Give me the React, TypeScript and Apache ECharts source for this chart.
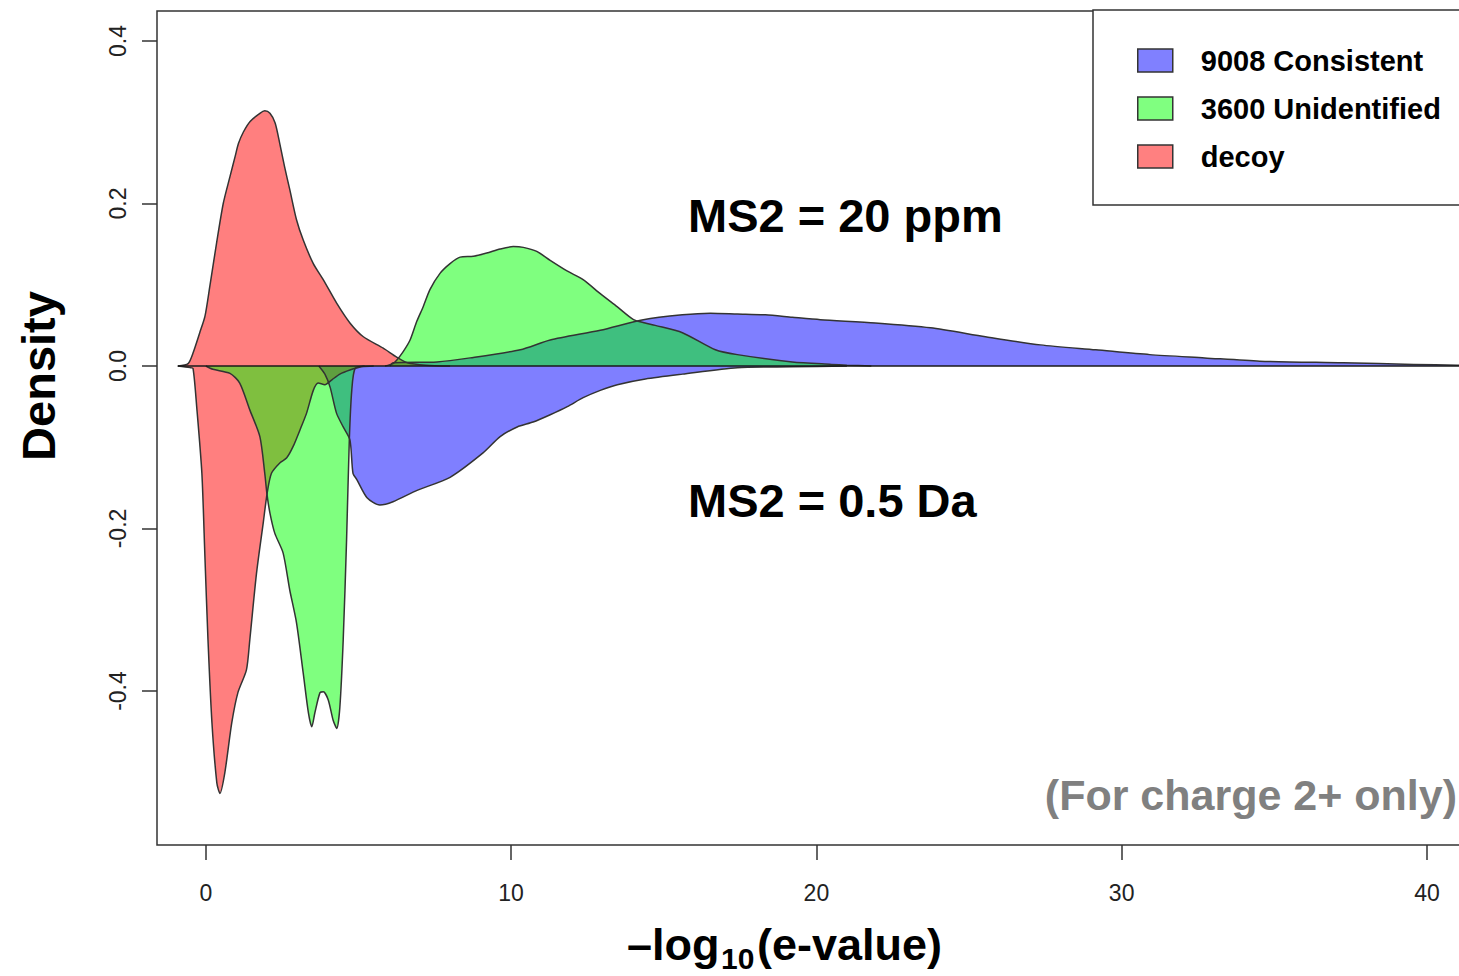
import React, { useEffect, useRef } from 'react';
import * as echarts from 'echarts';

const seriesNames = ['9008 Consistent', '3600 Unidentified', 'decoy'];
const seriesColors = ['#0000FF', '#00FF00', '#FF0000'];
const legendColors = ['#8080FF', '#80FF80', '#FF8080'];
const xTicks = [0, 10, 20, 30, 40];
const yTicks = [-0.4, -0.2, 0, 0.2, 0.4];

// MS2 = 20 ppm (upper half)
const consistentTop: number[][] = [
  [6.03, 0], [6.13, 0.004], [7.57, 0.005], [8.66, 0.01], [10.3, 0.02], [11.28, 0.032],
  [12.92, 0.044], [14.33, 0.057], [15.61, 0.063], [16.53, 0.065], [17.41, 0.064],
  [18.33, 0.063], [19.21, 0.06], [20.13, 0.057], [21.93, 0.053], [23.74, 0.047],
  [25.54, 0.036], [27.34, 0.026], [29.15, 0.02], [30.92, 0.014], [32.72, 0.01],
  [34.52, 0.006], [37.25, 0.004], [39.57, 0.002], [41, 0.001], [42, 0],
];
const unidentifiedTop: number[][] = [
  [5.87, 0], [6.13, 0.003], [6.25, 0.007], [6.47, 0.018], [6.69, 0.032], [6.91, 0.055],
  [7.12, 0.073], [7.34, 0.094], [7.67, 0.114], [8.0, 0.126], [8.33, 0.134], [8.76, 0.135],
  [9.2, 0.139], [9.64, 0.144], [10.07, 0.147], [10.4, 0.146], [10.84, 0.141], [11.28, 0.13],
  [11.83, 0.117], [12.37, 0.106], [12.92, 0.089], [13.47, 0.073], [14.01, 0.057],
  [14.39, 0.053], [14.72, 0.05], [15.61, 0.041], [16.69, 0.02], [17.41, 0.014],
  [19.21, 0.005], [20.49, 0.002], [21.0, 0.001], [21.8, 0],
];
const decoyTop: number[][] = [
  [-0.91, 0], [-0.58, 0.003], [-0.42, 0.016], [-0.2, 0.041], [-0.03, 0.061], [0.13, 0.098],
  [0.35, 0.151], [0.57, 0.2], [0.79, 0.233], [0.96, 0.258], [1.07, 0.274], [1.23, 0.288],
  [1.45, 0.301], [1.77, 0.311], [1.93, 0.314], [2.1, 0.311], [2.27, 0.299], [2.42, 0.274],
  [2.58, 0.245], [2.75, 0.217], [2.97, 0.18], [3.19, 0.155], [3.52, 0.126], [3.85, 0.106],
  [4.29, 0.077], [4.72, 0.053], [5.16, 0.036], [5.81, 0.022], [6.25, 0.011], [6.6, 0.004],
  [7.2, 0.001], [8.0, 0],
];

// MS2 = 0.5 Da (lower half, mirrored)
const consistentBottom: number[][] = [
  [3.7, 0], [3.9, -0.01], [4.07, -0.026], [4.28, -0.058], [4.5, -0.075], [4.72, -0.091],
  [4.82, -0.132], [4.95, -0.14], [5.28, -0.162], [5.7, -0.171], [6.13, -0.167],
  [6.92, -0.153], [8.0, -0.137], [9.08, -0.107], [9.64, -0.087], [10.2, -0.075],
  [10.72, -0.069], [11.28, -0.06], [11.84, -0.05], [12.36, -0.039], [12.92, -0.03],
  [13.48, -0.023], [14.4, -0.016], [15.61, -0.01], [17.41, -0.002], [19.21, -0.001], [21, 0],
];
const unidentifiedBottom: number[][] = [
  [0.0, 0], [0.23, -0.004], [0.79, -0.009], [1.11, -0.021], [1.44, -0.054], [1.77, -0.087],
  [1.93, -0.132], [2.0, -0.157], [2.1, -0.181], [2.26, -0.206], [2.53, -0.23], [2.75, -0.276],
  [2.97, -0.316], [3.19, -0.378], [3.36, -0.427], [3.47, -0.444], [3.57, -0.427],
  [3.74, -0.402], [3.85, -0.401], [4.01, -0.411], [4.17, -0.436], [4.29, -0.446],
  [4.39, -0.42], [4.5, -0.337], [4.61, -0.214], [4.7, -0.091], [4.78, -0.03], [4.89, -0.003],
  [5.2, 0],
];
const decoyBottom: number[][] = [
  [-0.92, 0], [-0.52, -0.002], [-0.42, -0.003], [-0.3, -0.05], [-0.13, -0.132],
  [-0.03, -0.235], [0.07, -0.337], [0.2, -0.439], [0.36, -0.513], [0.46, -0.526],
  [0.62, -0.501], [0.85, -0.439], [1.05, -0.402], [1.33, -0.374], [1.44, -0.337],
  [1.66, -0.255], [1.88, -0.193], [2.01, -0.156], [2.15, -0.132], [2.43, -0.119],
  [2.65, -0.113], [2.86, -0.099], [3.08, -0.079], [3.3, -0.058], [3.52, -0.03],
  [3.68, -0.021], [3.9, -0.023], [4.13, -0.017], [4.39, -0.01], [4.72, -0.005],
  [5.1, -0.001], [5.5, 0],
];
const zeroLine: number[][] = [[-0.92, 0], [42, 0]];

const FONT = '"Liberation Sans", Arial, Helvetica, sans-serif';

function areaSeries(name: string, color: string, data: number[][]) {
  return {
    type: 'line',
    name,
    data,
    showSymbol: false,
    smooth: 0.25,
    lineStyle: { color: '#333333', width: 1.5 },
    areaStyle: { color, opacity: 0.5 },
    itemStyle: { color },
    silent: true,
  };
}

export default function App() {
  const ref = useRef<HTMLDivElement>(null);
  useEffect(() => {
    if (!ref.current) return;
    const chart = echarts.init(ref.current, null, { renderer: 'svg' });
    const [nB, nG, nR] = seriesNames;
    const [cB, cG, cR] = seriesColors;
    const textStyle = (text: string, size: number, fill = '#000000', align = 'left') => ({
      text,
      fontSize: size,
      fontWeight: 'bold',
      fontFamily: FONT,
      fill,
      align,
      verticalAlign: 'middle',
    });
    chart.setOption({
      animation: false,
      backgroundColor: '#ffffff',
      grid: {
        left: 157,
        top: 11,
        width: 1331,
        height: 834,
        show: true,
        borderColor: '#333333',
        borderWidth: 1.5,
        backgroundColor: 'transparent',
      },
      xAxis: {
        type: 'value',
        min: -1.6,
        max: 42,
        axisLine: { show: false, onZero: false },
        splitLine: { show: false },
        axisTick: {
          show: true,
          length: 15,
          customValues: xTicks,
          lineStyle: { color: '#333333', width: 1.5 },
        },
        axisLabel: {
          customValues: xTicks,
          margin: 36,
          fontSize: 23,
          fontFamily: FONT,
          color: '#222222',
        },
      },
      yAxis: {
        type: 'value',
        min: -0.5895,
        max: 0.4369,
        axisLine: { show: false, onZero: false },
        splitLine: { show: false },
        axisTick: {
          show: true,
          length: 15,
          customValues: yTicks,
          lineStyle: { color: '#333333', width: 1.5 },
        },
        axisLabel: {
          customValues: yTicks,
          rotate: 90,
          margin: 28,
          fontSize: 23,
          fontFamily: FONT,
          color: '#222222',
          formatter: (v: number) => v.toFixed(1),
        },
      },
      legend: {
        orient: 'vertical',
        left: 1093,
        top: 10,
        selectedMode: false,
        icon: 'rect',
        itemWidth: 35,
        itemHeight: 23,
        itemGap: 19,
        padding: [36, 160, 34, 44],
        borderColor: '#333333',
        borderWidth: 1.5,
        backgroundColor: '#ffffff',
        itemStyle: { borderColor: '#333333', borderWidth: 1.5 },
        textStyle: {
          fontSize: 29,
          fontWeight: 'bold',
          fontFamily: FONT,
          color: '#000000',
          lineHeight: 28,
          padding: [0, 0, 0, 23],
        },
        data: seriesNames.map((n, i) => ({
          name: n,
          itemStyle: { color: legendColors[i], borderColor: '#333333', borderWidth: 1.5 },
        })),
      },
      graphic: [
        { type: 'text', x: 688, y: 215, style: textStyle('MS2 = 20 ppm', 47) },
        { type: 'text', x: 688, y: 500, style: textStyle('MS2 = 0.5 Da', 47) },
        { type: 'text', x: 1457, y: 795, style: textStyle('(For charge 2+ only)', 43, '#808080', 'right') },
        { type: 'text', x: 627, y: 944, style: textStyle('\u2013log', 45) },
        { type: 'text', x: 721, y: 958, style: textStyle('10', 30) },
        { type: 'text', x: 757, y: 944, style: textStyle('(e-value)', 45) },
        {
          type: 'text',
          x: 38,
          y: 376,
          rotation: Math.PI / 2,
          style: textStyle('Density', 47, '#000000', 'center'),
        },
      ],
      series: [
        areaSeries(nB, cB, consistentTop),
        areaSeries(nB, cB, consistentBottom),
        areaSeries(nR, cR, decoyTop),
        areaSeries(nR, cR, decoyBottom),
        areaSeries(nG, cG, unidentifiedTop),
        areaSeries(nG, cG, unidentifiedBottom),
        {
          type: 'line',
          name: 'zero',
          data: zeroLine,
          showSymbol: false,
          silent: true,
          z: 5,
          lineStyle: { color: '#1a1a1a', width: 1.5 },
        },
      ],
    });
    return () => chart.dispose();
  }, []);
  return (
    <div
      style={{
        position: 'absolute',
        left: 0,
        top: 0,
        width: 1459,
        height: 976,
        overflow: 'hidden',
      }}
    >
      <div ref={ref} style={{ width: 1520, height: 976 }} />
    </div>
  );
}
